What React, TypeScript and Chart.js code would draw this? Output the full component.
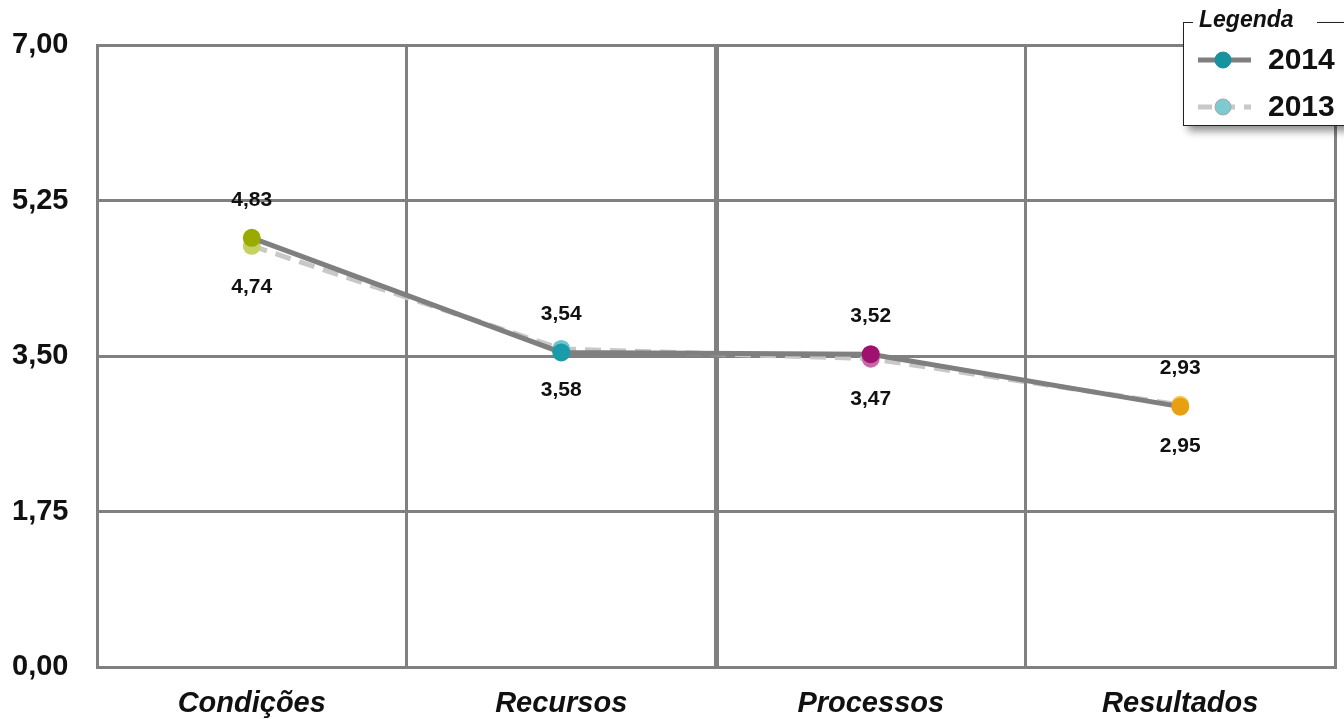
import React, { useEffect, useRef } from "react";
import { Chart, registerables } from "chart.js";

Chart.register(...registerables);

const categories = ["Condições", "Recursos", "Processos", "Resultados"];
const values2014 = [4.83, 3.54, 3.52, 2.93];
const values2013 = [4.74, 3.58, 3.47, 2.95];
const yTicks = [0, 1.75, 3.5, 5.25, 7];

const colors2014 = ["#9aab00", "#1a9bab", "#a0106e", "#e9a010"];
const colors2013 = ["#c6d163", "#72c4cc", "#c768a9", "#f1c363"];

const FONT = "'Liberation Sans', Arial, sans-serif";
const fmt = (v: number) => v.toFixed(2).replace(".", ",");

const valueLabels = {
  id: "valueLabels",
  afterDatasetsDraw(chart: any) {
    const ctx = chart.ctx;
    ctx.save();
    ctx.font = `bold 21px ${FONT}`;
    ctx.fillStyle = "#111";
    ctx.textAlign = "center";
    ctx.textBaseline = "middle";
    chart.data.datasets.forEach((ds: any, di: number) => {
      const meta = chart.getDatasetMeta(di);
      meta.data.forEach((pt: any, i: number) => {
        const dy = ds.labelSide === "above" ? -38 : 41;
        ctx.fillText(fmt(ds.data[i]), pt.x, pt.y + dy);
      });
    });
    ctx.restore();
  },
};

const boxLegend = {
  id: "boxLegend",
  afterDraw(chart: any) {
    const ctx = chart.ctx;
    const x = 1183, y = 22, w = 200, h = 103;
    ctx.save();
    ctx.shadowColor = "rgba(0,0,0,0.45)";
    ctx.shadowBlur = 8;
    ctx.shadowOffsetX = 5;
    ctx.shadowOffsetY = 6;
    ctx.fillStyle = "#fff";
    ctx.fillRect(x, y, w, h);
    ctx.restore();

    ctx.save();
    ctx.strokeStyle = "#222";
    ctx.lineWidth = 1;
    ctx.strokeRect(x + 0.5, y + 0.5, w, h);

    ctx.fillStyle = "#fff";
    ctx.fillRect(x + 10, y - 14, 124, 28);
    ctx.fillStyle = "#111";
    ctx.font = `italic bold 23px ${FONT}`;
    ctx.textAlign = "left";
    ctx.textBaseline = "middle";
    ctx.fillText("Legenda", x + 16, y - 1);

    const entries = [
      { label: "2014", y: 60, dash: [] as number[], line: "#7f7f7f", fill: "#17929f", stroke: "#17929f" },
      { label: "2013", y: 107, dash: [14, 9], line: "#c8c8c8", fill: "#7ccbd0", stroke: "#a8a8a8" },
    ];
    entries.forEach((e) => {
      ctx.beginPath();
      ctx.setLineDash(e.dash);
      ctx.strokeStyle = e.line;
      ctx.lineWidth = 5;
      ctx.moveTo(1198, e.y);
      ctx.lineTo(1251, e.y);
      ctx.stroke();
      ctx.setLineDash([]);
      ctx.beginPath();
      ctx.arc(1223, e.y, 8, 0, Math.PI * 2);
      ctx.fillStyle = e.fill;
      ctx.fill();
      ctx.lineWidth = 1;
      ctx.strokeStyle = e.stroke;
      ctx.stroke();
      ctx.fillStyle = "#111";
      ctx.font = `bold 30px ${FONT}`;
      ctx.fillText(e.label, 1268, e.y + 1);
    });
    ctx.restore();
  },
};

export default function App() {
  const ref = useRef<HTMLCanvasElement | null>(null);

  useEffect(() => {
    document.body.style.margin = "0";
    const canvas = ref.current;
    if (!canvas) return;
    const chart = new Chart(canvas, {
      type: "line",
      data: {
        labels: categories,
        datasets: [
          {
            label: "2013",
            data: values2013,
            labelSide: "below",
            borderColor: "#c8c8c8",
            borderWidth: 5,
            borderDash: [16, 9],
            pointBackgroundColor: colors2013,
            pointBorderColor: colors2013,
            pointRadius: 9,
            pointBorderWidth: 0,
            tension: 0,
            order: 2,
          } as any,
          {
            label: "2014",
            data: values2014,
            labelSide: "above",
            borderColor: "#7f7f7f",
            borderWidth: 5,
            pointBackgroundColor: colors2014,
            pointBorderColor: colors2014,
            pointRadius: 9,
            pointBorderWidth: 0,
            tension: 0,
            order: 1,
          } as any,
        ],
      },
      options: {
        responsive: false,
        animation: false,
        devicePixelRatio: 1,
        events: [],
        layout: { padding: { top: 45, right: 6, bottom: 0, left: 12 } },
        plugins: { legend: { display: false }, tooltip: { enabled: false } },
        scales: {
          x: {
            offset: true,
            grid: {
              offset: true,
              color: "#808080",
              lineWidth: (c: any) => (c.index === 2 ? 5 : 3),
              drawTicks: false,
            },
            border: { display: true, color: "#808080", width: 3 },
            ticks: {
              color: "#111",
              padding: 20,
              font: { family: FONT, size: 29, weight: "bold", style: "italic" },
            },
            afterFit: (s: any) => {
              s.height = 52;
            },
          },
          y: {
            min: 0,
            max: 7,
            afterBuildTicks: (s: any) => {
              s.ticks = yTicks.map((v) => ({ value: v }));
            },
            grid: { color: "#808080", lineWidth: 3, drawTicks: false },
            border: { display: true, color: "#808080", width: 3 },
            ticks: {
              color: "#111",
              crossAlign: "far",
              callback: (v: any) => fmt(Number(v)),
              font: { family: FONT, size: 29, weight: "bold" },
            },
            afterFit: (s: any) => {
              s.width = 85;
            },
          },
        },
      } as any,
      plugins: [valueLabels, boxLegend],
    });
    return () => chart.destroy();
  }, []);

  return (
    <div style={{ width: 1344, height: 719, background: "#fff" }}>
      <canvas ref={ref} width={1344} height={719} style={{ display: "block" }} />
    </div>
  );
}
